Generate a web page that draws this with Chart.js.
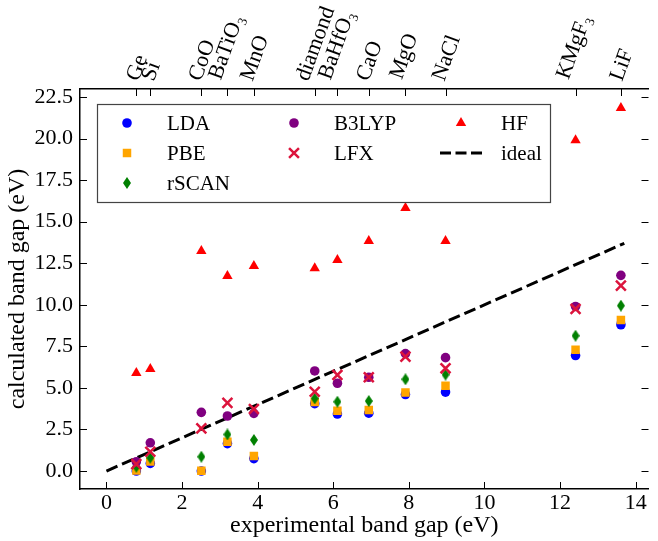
<!DOCTYPE html>
<html>
<head>
<meta charset="utf-8">
<script src="https://cdn.jsdelivr.net/npm/chart.js@4.4.1/dist/chart.umd.min.js"></script>
<style>
  html, body { margin: 0; padding: 0; background: #fff; }
  canvas { display: block; }
</style>
</head>
<body>
<canvas id="gapChart" width="658" height="541" style="width:658px;height:541px"></canvas>
<script>
// materials along the top axis and their experimental gaps (eV)
const materials = ["Ge", "Si", "CoO", "BaTiO\u2083", "MnO", "diamond", "BaHfO\u2083", "CaO", "MgO", "NaCl", "KMgF\u2083", "LiF"];
const expGap = [0.79, 1.16, 2.51, 3.2, 3.9, 5.51, 6.11, 6.94, 7.91, 8.97, 12.41, 13.61];

// calculated gaps per method
const ldaGap   = [0.0, 0.46, 0.0, 1.65, 0.75, 4.05, 3.43, 3.48, 4.6, 4.75, 6.95, 8.8];
const pbeGap   = [0.03, 0.58, 0.02, 1.76, 0.9, 4.15, 3.63, 3.67, 4.73, 5.13, 7.3, 9.09];
const rscanGap = [0.26, 0.8, 0.86, 2.2, 1.87, 4.37, 4.17, 4.21, 5.52, 5.8, 8.14, 9.95];
const b3lypGap = [0.56, 1.7, 3.53, 3.31, 3.47, 6.02, 5.28, 5.64, 7.06, 6.82, 9.9, 11.77];
const lfxGap   = [0.42, 1.16, 2.57, 4.1, 3.73, 4.77, 5.78, 5.64, 6.88, 6.18, 9.75, 11.15];
const hfGap    = [5.9, 6.14, 13.24, 11.73, 12.33, 12.2, 12.7, 13.84, 15.82, 13.84, 19.9, 21.84];

const idealX = [0, 13.7];

const xTicks = [0, 2, 4, 6, 8, 10, 12, 14];
const yTicks = [0, 2.5, 5, 7.5, 10, 12.5, 15, 17.5, 20, 22.5];

const serif = "'Liberation Serif', 'DejaVu Serif', serif";

// thin diamond marker like matplotlib 'd'
function thinDiamond(color) {
  const c = document.createElement("canvas");
  c.width = 8; c.height = 12;
  const g = c.getContext("2d");
  g.fillStyle = color;
  g.beginPath();
  g.moveTo(4, 0); g.lineTo(8, 6); g.lineTo(4, 12); g.lineTo(0, 6);
  g.closePath();
  g.fill();
  return c;
}

function pts(arr) {
  return expGap.map((x, i) => ({ x: x, y: arr[i] }));
}

const datasets = [
  { label: "LDA", data: pts(ldaGap), pointStyle: "circle", pointRadius: 4.8, backgroundColor: "#0000ff", borderColor: "#0000ff", borderWidth: 0, order: 6 },
  { label: "PBE", data: pts(pbeGap), pointStyle: "rect", pointRadius: 6, backgroundColor: "#ffa500", borderColor: "#ffa500", borderWidth: 0, order: 5 },
  { label: "rSCAN", data: pts(rscanGap), pointStyle: thinDiamond("#008000"), pointRadius: 6, backgroundColor: "#008000", borderColor: "#008000", borderWidth: 0, order: 4 },
  { label: "B3LYP", data: pts(b3lypGap), pointStyle: "circle", pointRadius: 4.8, backgroundColor: "#800080", borderColor: "#800080", borderWidth: 0, order: 3 },
  { label: "LFX", data: pts(lfxGap), pointStyle: "crossRot", pointRadius: 7, backgroundColor: "#dc143c", borderColor: "#dc143c", borderWidth: 2.5, order: 2 },
  { label: "HF", data: pts(hfGap), pointStyle: "triangle", pointRadius: 6, backgroundColor: "#ff0000", borderColor: "#ff0000", borderWidth: 0, order: 1 },
  { label: "ideal", data: idealX.map(v => ({ x: v, y: v })), showLine: true, pointRadius: 0, borderColor: "#000", borderWidth: 3, borderDash: [12, 5], order: 7 }
];

// inward ticks, rotated top labels and a 3-column legend
const decor = {
  id: "decor",
  afterDraw(chart) {
    const ctx = chart.ctx;
    const a = chart.chartArea;
    const xs = chart.scales.x, ys = chart.scales.y;
    ctx.save();
    ctx.strokeStyle = "#000";
    ctx.lineWidth = 1;
    ctx.beginPath();
    xTicks.forEach(v => {
      const p = Math.round(xs.getPixelForValue(v)) + 0.5;
      ctx.moveTo(p, a.bottom); ctx.lineTo(p, a.bottom - 7);
    });
    yTicks.forEach(v => {
      const p = Math.round(ys.getPixelForValue(v)) + 0.5;
      ctx.moveTo(a.left, p); ctx.lineTo(a.left + 7, p);
      ctx.moveTo(a.right, p); ctx.lineTo(a.right - 7, p);
    });
    expGap.forEach(v => {
      const p = Math.round(xs.getPixelForValue(v)) + 0.5;
      ctx.moveTo(p, a.top); ctx.lineTo(p, a.top + 7);
    });
    ctx.stroke();

    // top labels, rotated 70 degrees, bbox centred on tick
    const th = 70 * Math.PI / 180;
    const c = Math.cos(th), s = Math.sin(th);
    ctx.font = "22px " + serif;
    ctx.fillStyle = "#000";
    ctx.textAlign = "left";
    ctx.textBaseline = "alphabetic";
    materials.forEach((m, i) => {
      const mt = ctx.measureText(m);
      const w = mt.width, asc = mt.actualBoundingBoxAscent, desc = mt.actualBoundingBoxDescent;
      const corners = [[0, -asc], [w, -asc], [0, desc], [w, desc]].map(([u, v]) => [u * c + v * s, -u * s + v * c]);
      const minX = Math.min(...corners.map(q => q[0])), maxX = Math.max(...corners.map(q => q[0]));
      const maxY = Math.max(...corners.map(q => q[1]));
      const tx = xs.getPixelForValue(expGap[i]);
      const ox = tx - (minX + maxX) / 2;
      const oy = a.top - 7 - maxY;
      ctx.save();
      ctx.translate(ox, oy);
      ctx.rotate(-th);
      ctx.fillText(m, 0, 0);
      ctx.restore();
    });

    // legend
    const L = { x: 97, y: 104, w: 453, h: 98 };
    ctx.fillStyle = "#fff";
    ctx.fillRect(L.x, L.y, L.w, L.h);
    ctx.strokeStyle = "#444";
    ctx.lineWidth = 1.2;
    ctx.strokeRect(L.x + 0.5, L.y + 0.5, L.w, L.h);
    const colX = [127, 294, 461];
    const rowY = [123, 153, 183];
    const layout = [[0, 0, 0], [1, 0, 1], [2, 0, 2], [3, 1, 0], [4, 1, 1], [5, 2, 0], [6, 2, 1]];
    ctx.font = "21px " + serif;
    ctx.textBaseline = "middle";
    layout.forEach(([di, col, row]) => {
      const ds = chart.data.datasets[di];
      const mx = colX[col], my = rowY[row];
      if (ds.showLine) {
        ctx.save();
        ctx.strokeStyle = ds.borderColor;
        ctx.lineWidth = 3;
        ctx.setLineDash([11, 4.5]);
        ctx.beginPath();
        ctx.moveTo(mx - 21, my); ctx.lineTo(mx + 21, my);
        ctx.stroke();
        ctx.restore();
      } else {
        ctx.save();
        ctx.fillStyle = ds.backgroundColor;
        ctx.strokeStyle = ds.borderColor;
        ctx.lineWidth = ds.borderWidth;
        Chart.helpers.drawPoint(ctx, { pointStyle: ds.pointStyle, radius: ds.pointRadius, borderWidth: ds.borderWidth, rotation: 0 }, mx, my);
        ctx.restore();
      }
      ctx.fillStyle = "#000";
      ctx.fillText(ds.label, mx + 40, my + 1);
    });
    ctx.restore();
  }
};

const ctx = document.getElementById("gapChart").getContext("2d");
const chart = new Chart(ctx, {
  type: "scatter",
  data: { datasets: datasets },
  options: {
    responsive: false,
    animation: false,
    layout: { padding: 0 },
    plugins: { legend: { display: false }, tooltip: { enabled: false } },
    scales: {
      x: {
        type: "linear", position: "bottom", min: -0.7, max: 14.34,
        afterBuildTicks: s => { s.ticks = xTicks.map(v => ({ value: v })); },
        afterFit: s => { s.height = 52; },
        ticks: { font: { family: serif, size: 22 }, color: "#000", padding: 1, maxRotation: 0, autoSkip: false },
        grid: { display: false, drawTicks: false },
        border: { display: true, color: "#000", width: 1.5 },
        title: { display: true, text: "experimental band gap (eV)", font: { family: serif, size: 24 }, color: "#000", padding: { top: 0, bottom: 1 } }
      },
      x2: {
        type: "linear", position: "top", min: -0.7, max: 14.34,
        afterFit: s => { s.height = 89; },
        ticks: { display: false },
        grid: { display: false, drawTicks: false },
        border: { display: true, color: "#000", width: 1.5 }
      },
      y: {
        type: "linear", position: "left", min: -1.08, max: 22.98,
        afterBuildTicks: s => { s.ticks = yTicks.map(v => ({ value: v })); },
        afterFit: s => { s.width = 80; },
        ticks: { font: { family: serif, size: 22 }, color: "#000", padding: 7, callback: v => v.toFixed(1) },
        grid: { display: false, drawTicks: false },
        border: { display: true, color: "#000", width: 1.5 },
        title: { display: true, text: "calculated band gap (eV)", font: { family: serif, size: 24 }, color: "#000", padding: { top: 3, bottom: 0 } }
      }
    }
  },
  plugins: [decor]
});
</script>
</body>
</html>
